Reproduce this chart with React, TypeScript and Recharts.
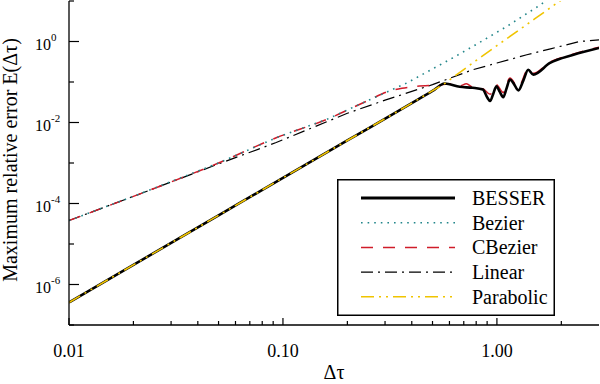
import React from 'react';
import { LineChart, Line, XAxis, YAxis, Legend } from 'recharts';

const FONT = 'Liberation Serif, Tinos, Times New Roman, Times, Nimbus Roman, Nimbus Roman No9 L, FreeSerif, DejaVu Serif, Noto Serif, serif';

// x ticks (Δτ)
const xMajorTicks = [0.01, 0.1, 1];
const xAllTicks = [
  0.01, 0.02, 0.03, 0.04, 0.05, 0.06, 0.07, 0.08, 0.09,
  0.1, 0.2, 0.3, 0.4, 0.5, 0.6, 0.7, 0.8, 0.9,
  1, 2,
];
// y ticks: every decade, labels on the even ones
const yAllTicks = [1e-7, 1e-6, 1e-5, 1e-4, 1e-3, 1e-2, 1e-1, 1, 10];

// BESSER
const besserX = [0.01, 0.02, 0.05, 0.1, 0.2, 0.4, 0.5, 0.57, 0.67, 0.77, 0.86, 0.9, 0.93, 0.96, 0.995, 1.03, 1.07, 1.11, 1.15, 1.2, 1.26, 1.33, 1.4, 1.48, 1.77, 2.28, 3.0];
const besserY = [3.6e-7, 3.05e-6, 5.1e-5, 4.3e-4, 3.6e-3, 0.03, 0.06, 0.092, 0.076, 0.072, 0.065, 0.042, 0.034, 0.05, 0.078, 0.058, 0.042, 0.07, 0.115, 0.09, 0.062, 0.11, 0.2, 0.152, 0.295, 0.47, 0.69];

// Bezier
const bezierX = [0.01, 0.02, 0.05, 0.093, 0.16, 0.25, 0.38, 0.5, 0.62, 0.77, 1.0, 1.11, 1.3, 1.59, 1.9];
const bezierY = [3.8e-5, 1.5e-4, 1.0e-3, 4.2e-3, 0.0119, 0.035, 0.095, 0.21, 0.39, 0.75, 1.69, 2.34, 4.0, 7.9, 15.8];

// CBezier
const cbezierX = [0.01, 0.02, 0.05, 0.093, 0.16, 0.25, 0.31, 0.36, 0.42, 0.54, 0.6, 0.67, 0.72, 0.77, 0.86, 0.93, 0.995, 1.07, 1.15, 1.26, 1.4, 1.48, 1.77, 2.28, 3.0];
const cbezierY = [3.8e-5, 1.5e-4, 1.0e-3, 4.2e-3, 0.0119, 0.035, 0.058, 0.07, 0.078, 0.085, 0.09, 0.08, 0.09, 0.074, 0.068, 0.05, 0.085, 0.055, 0.125, 0.075, 0.21, 0.165, 0.31, 0.49, 0.72];

// Linear
const linearX = [0.01, 0.02, 0.05, 0.093, 0.2, 0.3, 0.5, 0.77, 1.0, 1.38, 1.8, 2.44, 3.0];
const linearY = [3.8e-5, 1.5e-4, 9.5e-4, 3.2e-3, 0.0169, 0.0356, 0.086, 0.2, 0.294, 0.47, 0.67, 1.0, 1.1];

// Parabolic
const parabolicX = [0.01, 0.02, 0.05, 0.1, 0.2, 0.4, 0.57, 0.8, 1.0, 1.5, 2.0, 2.2];
const parabolicY = [3.6e-7, 3.05e-6, 5.1e-5, 4.3e-4, 3.6e-3, 0.03, 0.092, 0.34, 0.79, 3.6, 10.6, 15];

const toPoints = (xs: number[], ys: number[]) => xs.map((x, i) => ({ x, y: ys[i] }));

const series = [
  { name: 'BESSER', data: toPoints(besserX, besserY), color: '#000000', width: 2.6, dash: undefined, curve: 'monotone' },
  { name: 'Bezier', data: toPoints(bezierX, bezierY), color: '#22868a', width: 1.6, dash: '1.6 5', curve: 'linear' },
  { name: 'CBezier', data: toPoints(cbezierX, cbezierY), color: '#d01c2a', width: 1.5, dash: '12 10', curve: 'monotone' },
  { name: 'Linear', data: toPoints(linearX, linearY), color: '#000000', width: 1.2, dash: '12 5 2 5', curve: 'linear' },
  { name: 'Parabolic', data: toPoints(parabolicX, parabolicY), color: '#f0c400', width: 1.6, dash: '13 5 2 5 2 5', curve: 'linear' },
];

// draw order: the thin ones first, BESSER and Parabolic last
const drawOrder = ['Linear', 'CBezier', 'Bezier', 'BESSER', 'Parabolic'];

const isXMajor = (v: number) => xMajorTicks.some((m) => Math.abs(Math.log10(m) - Math.log10(v)) < 1e-6);

const textStyle = { fontFamily: FONT };

const XTick = (props: any) => {
  const { x, y, payload, side } = props;
  const major = isXMajor(payload.value);
  const len = major ? 7 : 4;
  const dir = side === 'top' ? 1 : -1;
  return (
    <g>
      <line x1={x} y1={y} x2={x} y2={y + dir * len} stroke="#000" strokeWidth={1.2} />
      {side === 'bottom' && major && (
        <text x={x} y={y + 32} textAnchor="middle" fontSize={18} style={textStyle} fill="#000">
          {payload.value.toFixed(2)}
        </text>
      )}
    </g>
  );
};

const YTick = (props: any) => {
  const { x, y, payload, side } = props;
  const exp = Math.round(Math.log10(payload.value));
  const major = exp % 2 === 0;
  const len = major ? 10 : 5;
  const dir = side === 'left' ? 1 : -1;
  return (
    <g>
      <line x1={x} y1={y} x2={x + dir * len} y2={y} stroke="#000" strokeWidth={1.2} />
      {side === 'left' && major && (
        <text x={x - 34} y={y + 8} fontSize={16} style={textStyle} fill="#000">
          10
          <tspan dy={-9} fontSize={11}>{String(exp)}</tspan>
        </text>
      )}
    </g>
  );
};

const YTitle = (props: any) => {
  const vb = props.viewBox;
  const cx = vb.x + 17;
  const cy = vb.y + vb.height / 2 - 3;
  return (
    <text x={cx} y={cy} transform={`rotate(-90, ${cx}, ${cy})`} textAnchor="middle" fontSize={20} style={textStyle} fill="#000">
      Maximum relative error E(Δτ)
    </text>
  );
};

const XTitle = (props: any) => {
  const vb = props.viewBox;
  return (
    <text x={vb.x + vb.width / 2} y={vb.y + 54} textAnchor="middle" fontSize={20} style={textStyle} fill="#000">
      Δτ
    </text>
  );
};

const LegendBox = () => (
  <svg width={218} height={137} style={{ display: 'block' }}>
    <rect x={0.75} y={0.75} width={216.5} height={135.5} fill="#fff" stroke="#000" strokeWidth={1.5} />
    {series.map((s, i) => {
      const ry = 19 + i * 24.7;
      return (
        <g key={s.name}>
          <line x1={24} x2={118} y1={ry} y2={ry} stroke={s.color} strokeWidth={s.name === 'BESSER' ? 3 : s.width} strokeDasharray={s.dash} />
          <text x={135} y={ry + 7} fontSize={20} style={textStyle} fill="#000">
            {s.name}
          </text>
        </g>
      );
    })}
  </svg>
);

export default function App() {
  return (
    <div style={{ position: 'absolute', left: 0, top: 0, width: 600, height: 384, background: '#fff', fontFamily: FONT }}>
      <LineChart width={600} height={384} margin={{ top: 1, right: 1, bottom: 0, left: 0 }}>
        <XAxis
          xAxisId={0}
          dataKey="x"
          type="number"
          scale="log"
          domain={[0.01, 3]}
          allowDataOverflow
          ticks={xAllTicks}
          interval={0}
          height={59}
          tickSize={0}
          tickMargin={0}
          tickLine={false}
          axisLine={{ stroke: '#000', strokeWidth: 1.3 }}
          tick={(p: any) => <XTick {...p} side="bottom" />}
          label={<XTitle />}
        />
        <XAxis
          xAxisId="top"
          orientation="top"
          dataKey="x"
          type="number"
          scale="log"
          domain={[0.01, 3]}
          allowDataOverflow
          ticks={xAllTicks}
          interval={0}
          height={0}
          tickSize={0}
          tickMargin={0}
          tickLine={false}
          axisLine={{ stroke: '#000', strokeWidth: 1.3 }}
          tick={(p: any) => <XTick {...p} side="top" />}
        />
        <YAxis
          yAxisId={0}
          type="number"
          scale="log"
          domain={[1e-7, 10]}
          allowDataOverflow
          ticks={yAllTicks}
          interval={0}
          width={69}
          tickSize={0}
          tickMargin={0}
          tickLine={false}
          axisLine={{ stroke: '#000', strokeWidth: 1.3 }}
          tick={(p: any) => <YTick {...p} side="left" />}
          label={<YTitle />}
        />
        <YAxis
          yAxisId="right"
          orientation="right"
          type="number"
          scale="log"
          domain={[1e-7, 10]}
          allowDataOverflow
          ticks={yAllTicks}
          interval={0}
          width={0}
          tickSize={0}
          tickMargin={0}
          tickLine={false}
          axisLine={{ stroke: '#000', strokeWidth: 1.3 }}
          tick={(p: any) => <YTick {...p} side="right" />}
        />
        <Legend
          layout="horizontal"
          verticalAlign="middle"
          content={() => <LegendBox />}
          wrapperStyle={{ left: 337, top: 179, width: 218, height: 137 }}
        />
        {drawOrder.map((name) => {
          const s = series.find((d) => d.name === name)!;
          return (
            <Line
              key={s.name}
              name={s.name}
              data={s.data}
              dataKey="y"
              type={s.curve as any}
              stroke={s.color}
              strokeWidth={s.width}
              strokeDasharray={s.dash}
              dot={false}
              activeDot={false}
              isAnimationActive={false}
            />
          );
        })}
      </LineChart>
    </div>
  );
}
